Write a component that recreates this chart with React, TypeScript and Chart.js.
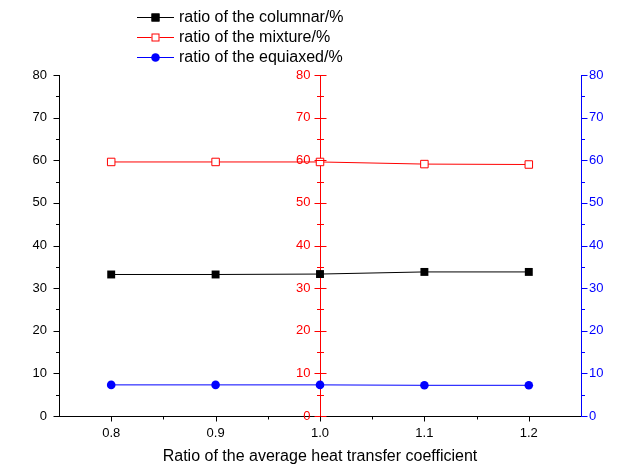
import React, { useEffect, useRef } from 'react';
import { Chart, registerables } from 'chart.js';

Chart.register(...registerables);

const ratios = [0.8, 0.9, 1.0, 1.1, 1.2];
const columnar = [33.2, 33.2, 33.3, 33.8, 33.8];
const mixture = [59.6, 59.6, 59.6, 59.1, 59.0];
const equiaxed = [7.3, 7.3, 7.3, 7.2, 7.2];
const seriesLabels = ['ratio of the columnar/%', 'ratio of the mixture/%', 'ratio of the equiaxed/%'];
const xMajorTicks = [0.8, 0.9, 1.0, 1.1, 1.2];
const xMinorTicks = [0.85, 0.95, 1.05, 1.15];
const yMajorTicks = [0, 10, 20, 30, 40, 50, 60, 70, 80];
const yMinorTicks = [5, 15, 25, 35, 45, 55, 65, 75];
const xTitle = 'Ratio of the average heat transfer coefficient';

const FONT = '"Liberation Sans", Arial, sans-serif';

const tickPlugin = {
  id: 'customTicks',
  afterDraw(chart: any) {
    const ctx = chart.ctx;
    const area = chart.chartArea;
    const xs = chart.scales.x;
    const ys = chart.scales.y;
    const mid = chart.scales.yMid;
    const midX = Math.round(xs.getPixelForValue(1.0)) + 0.5;
    const leftX = Math.round(area.left) + 0.5;
    const rightX = Math.round(area.right) + 0.5;
    const bottomY = Math.round(area.bottom) + 0.5;
    ctx.save();
    ctx.lineWidth = 1;
    const drawY = (axisX: number, color: string, mL: number, mR: number, nL: number, nR: number) => {
      ctx.strokeStyle = color;
      ctx.beginPath();
      for (const v of yMajorTicks) {
        const py = Math.round(ys.getPixelForValue(v)) + 0.5;
        ctx.moveTo(axisX - mL, py);
        ctx.lineTo(axisX + mR, py);
      }
      for (const v of yMinorTicks) {
        const py = Math.round(ys.getPixelForValue(v)) + 0.5;
        ctx.moveTo(axisX - nL, py);
        ctx.lineTo(axisX + nR, py);
      }
      ctx.stroke();
    };
    drawY(leftX, '#000000', 6, 0, 3.5, 0);
    drawY(midX, '#ff0000', 6, 6, 3.5, 3.5);
    drawY(rightX, '#0000ff', 0, 6, 0, 3.5);
    ctx.strokeStyle = '#000000';
    ctx.beginPath();
    for (const v of xMajorTicks) {
      const px = Math.round(xs.getPixelForValue(v)) + 0.5;
      ctx.moveTo(px, bottomY);
      ctx.lineTo(px, bottomY + 5);
    }
    for (const v of xMinorTicks) {
      const px = Math.round(xs.getPixelForValue(v)) + 0.5;
      ctx.moveTo(px, bottomY);
      ctx.lineTo(px, bottomY + 3);
    }
    ctx.stroke();

    // labels of the middle (red) axis, placed left of the axis line
    ctx.fillStyle = '#ff0000';
    ctx.font = `13px ${FONT}`;
    ctx.textAlign = 'right';
    ctx.textBaseline = 'middle';
    for (const t of mid.ticks) {
      ctx.fillText(String(t.value), midX - 10, mid.getPixelForValue(t.value));
    }

    // legend
    const rows = [17, 37, 57];
    chart.data.datasets.forEach((ds: any, i: number) => {
      const y = rows[i] + 0.5;
      ctx.strokeStyle = ds.borderColor;
      ctx.lineWidth = 1;
      ctx.beginPath();
      ctx.moveTo(137, y);
      ctx.lineTo(174, y);
      ctx.stroke();
      const cx = 155.5;
      if (ds.pointStyle === 'circle') {
        ctx.fillStyle = ds.pointBackgroundColor;
        ctx.beginPath();
        ctx.arc(cx, y, 4.3, 0, Math.PI * 2);
        ctx.fill();
      } else {
        ctx.fillStyle = ds.pointBackgroundColor;
        ctx.fillRect(cx - 4, y - 4, 8, 8);
        ctx.strokeStyle = ds.pointBorderColor;
        ctx.strokeRect(cx - 3.5, y - 3.5, 7, 7);
      }
      ctx.fillStyle = '#000000';
      ctx.font = `16px ${FONT}`;
      ctx.textBaseline = 'middle';
      ctx.textAlign = 'left';
      ctx.fillText(ds.label, 179, y);
    });
    ctx.restore();
  },
};

export default function App() {
  const ref = useRef<HTMLCanvasElement | null>(null);
  useEffect(() => {
    if (!ref.current) return;
    const toPts = (arr: number[]) => arr.map((v, i) => ({ x: ratios[i], y: v }));
    const yBase = (color: string, tickPad: number, showLabels: boolean) => ({
      type: 'linear' as const,
      min: 0,
      max: 80,
      afterBuildTicks: (s: any) => {
        s.ticks = yMajorTicks.map((v) => ({ value: v }));
      },
      grid: { display: true, drawOnChartArea: false, drawTicks: true, tickLength: 6, tickColor: 'rgba(0,0,0,0)' },
      border: { display: true, color, width: 1 },
      ticks: { display: showLabels, color, font: { family: FONT, size: 13 }, padding: tickPad, autoSkip: false },
    });
    const chart = new Chart(ref.current, {
      type: 'line',
      data: {
        datasets: [
          {
            label: seriesLabels[0],
            data: toPts(columnar),
            borderColor: '#000000',
            borderWidth: 1,
            pointStyle: 'rect',
            pointRadius: 5.6,
            pointBackgroundColor: '#000000',
            pointBorderColor: '#000000',
            pointBorderWidth: 0,
            yAxisID: 'y',
          },
          {
            label: seriesLabels[1],
            data: toPts(mixture),
            borderColor: '#ff0000',
            borderWidth: 1,
            pointStyle: 'rect',
            pointRadius: 5.3,
            pointBackgroundColor: '#ffffff',
            pointBorderColor: '#ff0000',
            pointBorderWidth: 1,
            yAxisID: 'y',
          },
          {
            label: seriesLabels[2],
            data: toPts(equiaxed),
            borderColor: '#0000ff',
            borderWidth: 1,
            pointStyle: 'circle',
            pointRadius: 4.3,
            pointBackgroundColor: '#0000ff',
            pointBorderColor: '#0000ff',
            pointBorderWidth: 0,
            yAxisID: 'y',
          },
        ],
      },
      options: {
        animation: false,
        responsive: false,
        maintainAspectRatio: false,
        layout: { padding: { top: 75, left: 0, right: 0, bottom: 0 } },
        plugins: { legend: { display: false }, tooltip: { enabled: false } },
        elements: { line: { tension: 0 } },
        scales: {
          x: {
            type: 'linear',
            min: 0.75,
            max: 1.25,
            position: 'bottom',
            afterBuildTicks: (s: any) => {
              s.ticks = xMajorTicks.map((v) => ({ value: v }));
            },
            afterFit: (s: any) => {
              s.height = 52;
            },
            grid: { display: true, drawOnChartArea: false, drawTicks: true, tickLength: 5, tickColor: 'rgba(0,0,0,0)' },
            border: { display: true, color: '#000000', width: 1 },
            ticks: {
              color: '#000000',
              font: { family: FONT, size: 13 },
              padding: 5,
              maxRotation: 0,
              autoSkip: false,
              callback: (v: any) => Number(v).toFixed(1),
            },
            title: {
              display: true,
              text: xTitle,
              color: '#000000',
              font: { family: FONT, size: 16 },
              padding: { top: 0, bottom: 1.5 },
            },
          },
          y: {
            ...yBase('#000000', 6, true),
            position: 'left',
            afterFit: (s: any) => {
              s.width = 59;
            },
          },
          yMid: {
            ...yBase('#ff0000', 4, false),
            position: { x: 1.0 },
            z: 1,
          },
          yRight: {
            ...yBase('#0000ff', 2, true),
            position: 'right',
            afterFit: (s: any) => {
              s.width = 60;
            },
          },
        },
      },
      plugins: [tickPlugin],
    });
    return () => chart.destroy();
  }, []);
  return (
    <div style={{ position: 'absolute', left: 0, top: 0, width: 641, height: 468, background: '#ffffff' }}>
      <canvas ref={ref} width={641} height={468} />
    </div>
  );
}
